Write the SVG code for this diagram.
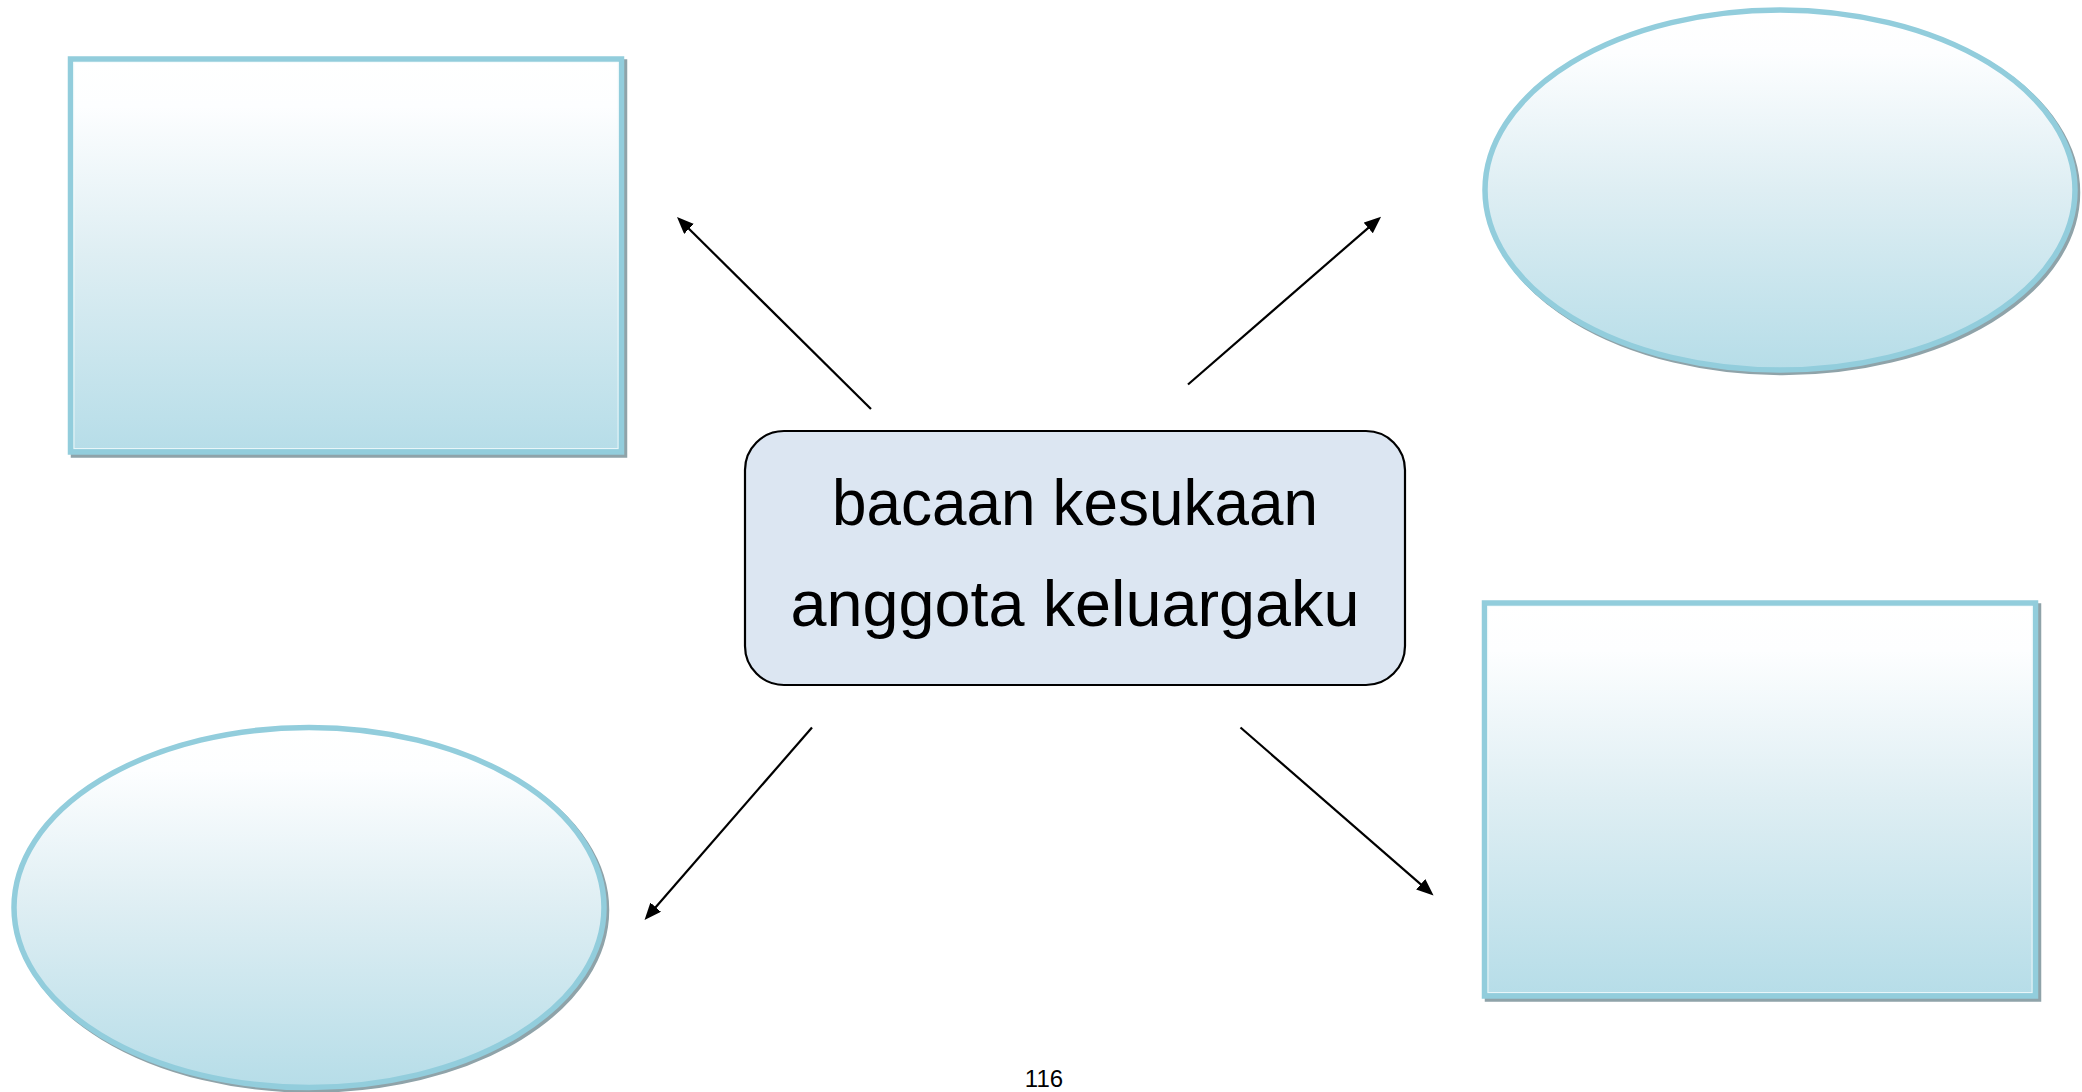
<svg xmlns="http://www.w3.org/2000/svg" width="2082" height="1092" viewBox="0 0 2082 1092">
  <defs>
    <linearGradient id="blueFill" x1="0" y1="0" x2="0" y2="1">
      <stop offset="0" stop-color="#ffffff"/>
      <stop offset="0.12" stop-color="#fdfeff"/>
      <stop offset="0.5" stop-color="#deeef3"/>
      <stop offset="1" stop-color="#b6dde8"/>
    </linearGradient>
    <marker id="arrowHead" markerUnits="userSpaceOnUse" markerWidth="20" markerHeight="16" refX="7" refY="7" orient="auto">
      <path d="M0,0 L17,7 L0,14 Z" fill="#000000"/>
    </marker>
  </defs>
  <style>
    .shape { fill: url(#blueFill); stroke: #92cddc; stroke-width: 5.5; }
    .shadow { fill: none; stroke: #8fa3a9; stroke-width: 5.5; }
    .shadowFill { fill: #8fa3a9; }
    .inner { fill: none; stroke: #f4fbfd; stroke-width: 1; opacity: 0.8; }
    .center { fill: #dce6f2; stroke: #000000; stroke-width: 2.2; }
    .label { font-family: "Comic Sans MS", "Liberation Sans", "DejaVu Sans", sans-serif; font-size: 64px; fill: #000000; text-anchor: middle; }
    .pagenum { font-family: "Liberation Sans", Arial, sans-serif; font-size: 24px; fill: #000000; text-anchor: middle; }
    .conn { stroke: #000000; stroke-width: 2.2; fill: none; marker-end: url(#arrowHead); }
  </style>

  <rect width="2082" height="1092" fill="#ffffff"/>

  <g id="node-top-left">
    <rect class="shadow" x="73.5" y="62" width="551" height="393"/>
    <rect class="shape" x="70.5" y="59" width="551" height="393"/>
    <rect class="inner" x="74" y="62.5" width="544" height="386"/>
  </g>

  <g id="node-top-right">
    <ellipse class="shadow" cx="1782.5" cy="192.5" rx="295" ry="180"/>
    <ellipse class="shape" cx="1780" cy="190" rx="295" ry="180"/>
  </g>

  <g id="node-bottom-left">
    <ellipse class="shadow" cx="311.5" cy="910" rx="295" ry="180"/>
    <ellipse class="shape" cx="309" cy="907.5" rx="295" ry="180"/>
  </g>

  <g id="node-bottom-right">
    <rect class="shadow" x="1487.5" y="606" width="551" height="393"/>
    <rect class="shape" x="1484.5" y="603" width="551" height="393"/>
    <rect class="inner" x="1488" y="606.5" width="544" height="386"/>
  </g>

  <g id="node-center">
    <rect class="center" x="745" y="431" width="660" height="254" rx="39" ry="39"/>
    <text class="label" x="1075" y="525" textLength="486" lengthAdjust="spacingAndGlyphs">bacaan kesukaan</text>
    <text class="label" x="1075" y="626" textLength="569" lengthAdjust="spacingAndGlyphs">anggota keluargaku</text>
  </g>

  <g id="connectors">
    <path class="conn" d="M871,409 L684.1,224"/>
    <path class="conn" d="M1188,384.5 L1373.5,223.3"/>
    <path class="conn" d="M812,727.5 L651.1,912.5"/>
    <path class="conn" d="M1240.5,727.5 L1426,888.9"/>
  </g>

  <text id="page-number" class="pagenum" x="1044" y="1087">116</text>
</svg>
